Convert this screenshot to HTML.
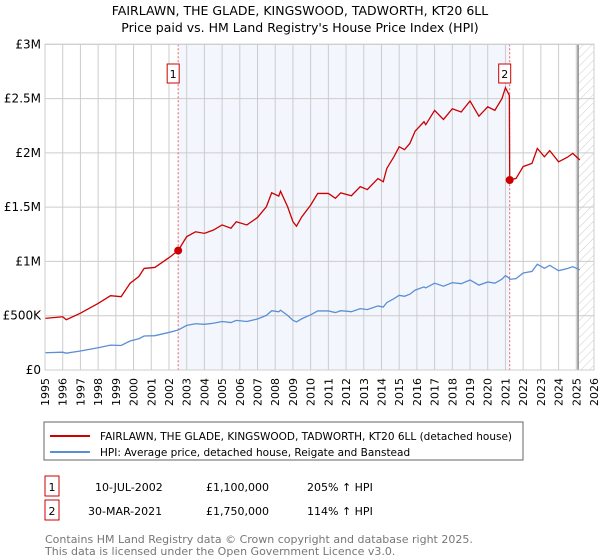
<!DOCTYPE html>
<html><head><meta charset="utf-8"><style>
body{margin:0;background:#fff;font-family:"Liberation Sans","DejaVu Sans",sans-serif;}
svg{display:block}
text{font-family:"DejaVu Sans","Liberation Sans",sans-serif;}
</style></head><body>
<svg id="chart" width="600" height="560">
<defs><pattern id="hatch" width="6" height="6" patternUnits="userSpaceOnUse" patternTransform="rotate(45)"><line x1="0" y1="0" x2="0" y2="6" stroke="#ccc" stroke-width="1"/></pattern></defs>
<text x="300" y="15" text-anchor="middle" font-size="12.5" fill="#000">FAIRLAWN, THE GLADE, KINGSWOOD, TADWORTH, KT20 6LL</text>
<text x="300" y="32" text-anchor="middle" font-size="12.5" fill="#000">Price paid vs. HM Land Registry's House Price Index (HPI)</text>
<g id="plot"></g>
<rect x="44" y="422" width="479" height="38" fill="#fff" stroke="#666"/>
<line x1="50" y1="436" x2="90" y2="436" stroke="#cc0000" stroke-width="2"/>
<text x="100" y="440" font-size="10.5">FAIRLAWN, THE GLADE, KINGSWOOD, TADWORTH, KT20 6LL (detached house)</text>
<line x1="50" y1="452" x2="90" y2="452" stroke="#5b8fd4" stroke-width="2"/>
<text x="100" y="456" font-size="10.5">HPI: Average price, detached house, Reigate and Banstead</text>
<g font-size="11">
<rect x="45" y="476" width="14" height="20" fill="#fff" stroke="#cc0000"/>
<text x="52" y="491" text-anchor="middle">1</text>
<text x="95" y="491">10-JUL-2002</text>
<text x="206" y="491">£1,100,000</text>
<text x="307" y="491">205% ↑ HPI</text>
<rect x="45" y="500" width="14" height="20" fill="#fff" stroke="#cc0000"/>
<text x="52" y="515" text-anchor="middle">2</text>
<text x="88" y="515">30-MAR-2021</text>
<text x="206" y="515">£1,750,000</text>
<text x="307" y="515">114% ↑ HPI</text>
</g>
<text x="45" y="543" font-size="11" fill="#777">Contains HM Land Registry data © Crown copyright and database right 2025.</text>
<text x="45" y="555" font-size="11" fill="#777">This data is licensed under the Open Government Licence v3.0.</text>
</svg>
<script>
const hpiYears=[1995,1996,1996.2,1997,1998,1998.7,1999.3,1999.8,2000.3,2000.6,2001.2,2002,2002.52,2003,2003.5,2004,2004.5,2005,2005.5,2005.8,2006.4,2007,2007.5,2007.8,2008.2,2008.3,2008.7,2009,2009.2,2009.5,2010,2010.4,2011,2011.4,2011.7,2012.3,2012.8,2013.2,2013.8,2014.1,2014.3,2014.7,2015,2015.3,2015.6,2015.9,2016.4,2016.5,2017,2017.5,2018,2018.5,2019,2019.5,2020,2020.4,2020.8,2021,2021.22,2021.24,2021.6,2022,2022.5,2022.8,2023.2,2023.5,2024,2024.5,2024.8,2025.2];
const hpiValues=[159,164,155,175,205,229,226,267,288,313,316,346,368,411,426,421,431,447,437,457,447,470,503,546,536,551,503,457,443,472,508,544,544,529,546,537,565,556,590,580,621,657,688,679,698,736,765,756,800,772,805,795,829,782,811,800,836,870,846,835,842,894,908,974,937,964,915,935,952,923];
const saleYears=[2002.52,2021.24];
const salePrices=[1100,1750];
const saleLabels=["1","2"];
const yTicks=[0,500,1000,1500,2000,2500,3000];
const yTickLabels=["£0","£500K","£1M","£1.5M","£2M","£2.5M","£3M"];
const X0=45,X1=594,Y0=370,Y1=44.3,yr0=1995,yr1=2026,vmax=3000;
const xs=y=>X0+(y-yr0)/(yr1-yr0)*(X1-X0);
const ys=v=>Y0-v/vmax*(Y0-Y1);
const NS="http://www.w3.org/2000/svg";
const g=document.getElementById('plot');
function mk(t,a,p){const e=document.createElementNS(NS,t);for(const k in a)e.setAttribute(k,a[k]);(p||g).appendChild(e);return e;}
const hpiAt=y=>{for(let i=1;i<hpiYears.length;i++){if(y<=hpiYears[i]){const f=(y-hpiYears[i-1])/(hpiYears[i]-hpiYears[i-1]);return hpiValues[i-1]+f*(hpiValues[i]-hpiValues[i-1]);}}return hpiValues[hpiValues.length-1];};
let e=mk('rect',{x:xs(saleYears[0]),y:Y1,width:xs(saleYears[1])-xs(saleYears[0]),height:Y0-Y1,fill:'#eef3fc',opacity:0.7});


e=mk('rect',{x:xs(2025.1),y:Y1,width:X1-xs(2025.1),height:Y0-Y1,fill:'url(#hatch)'});


for(let yr=yr0;yr<=yr1;yr++){
 e=mk('line',{x1:xs(yr),x2:xs(yr),y1:Y1,y2:Y0,stroke:'#ccc','stroke-width':1});
 
 
 e=mk('text',{x:0,y:0,'font-size':11,'text-anchor':'end',transform:`translate(${xs(yr)+4},${Y0+8}) rotate(-90)`});
 e.textContent=yr;
 
 
}
yTicks.forEach((v,i)=>{
 e=mk('line',{x1:X0,x2:X1,y1:ys(v),y2:ys(v),stroke:'#ccc','stroke-width':1});
 
 
 e=mk('text',{x:X0-4,y:ys(v)+4,'font-size':12,'text-anchor':'end'});
 e.textContent=yTickLabels[i];
 
 
});
e=mk('line',{x1:xs(2025.1),x2:xs(2025.1),y1:Y1,y2:Y0,stroke:'#888','stroke-width':1.5});


saleYears.forEach((s,i)=>{
 e=mk('line',{x1:xs(s),x2:xs(s),y1:Y1,y2:Y0,stroke:'#f06060','stroke-dasharray':'2,2','stroke-width':1});
 
 
 e=mk('rect',{x:xs(s)-11,y:64,width:12,height:19,fill:'#fff',stroke:'#cc0000'});
 
 
 e=mk('text',{x:xs(s)-5,y:78,'font-size':11,'text-anchor':'middle'});
 e.textContent=saleLabels[i];
 
 
});
e=mk('polyline',{points:hpiYears.map((y,i)=>xs(y)+','+ys(hpiValues[i])).join(' '),fill:'none',stroke:'#5b8fd4','stroke-width':1.3});


const pts=[];
hpiYears.forEach((y,i)=>{
 let k=saleYears.length-1;while(k>0&&y<saleYears[k])k--;
 const r=salePrices[k]/hpiAt(saleYears[k]);
 if(y>=saleYears[1]&&pts.length&&hpiYears[i-1]<saleYears[1])pts.push(xs(saleYears[1])+','+ys(salePrices[1]));
 pts.push(xs(y)+','+ys(hpiValues[i]*r));
});
e=mk('polyline',{points:pts.join(' '),fill:'none',stroke:'#cc0000','stroke-width':1.3});


saleYears.forEach((s,i)=>{
 e=mk('circle',{cx:xs(s),cy:ys(salePrices[i]),r:4,fill:'#cc0000'});
 
 
});
e=mk('rect',{x:X0,y:Y1,width:X1-X0,height:Y0-Y1,fill:'none',stroke:'#ccc'});


</script>
</body></html>
